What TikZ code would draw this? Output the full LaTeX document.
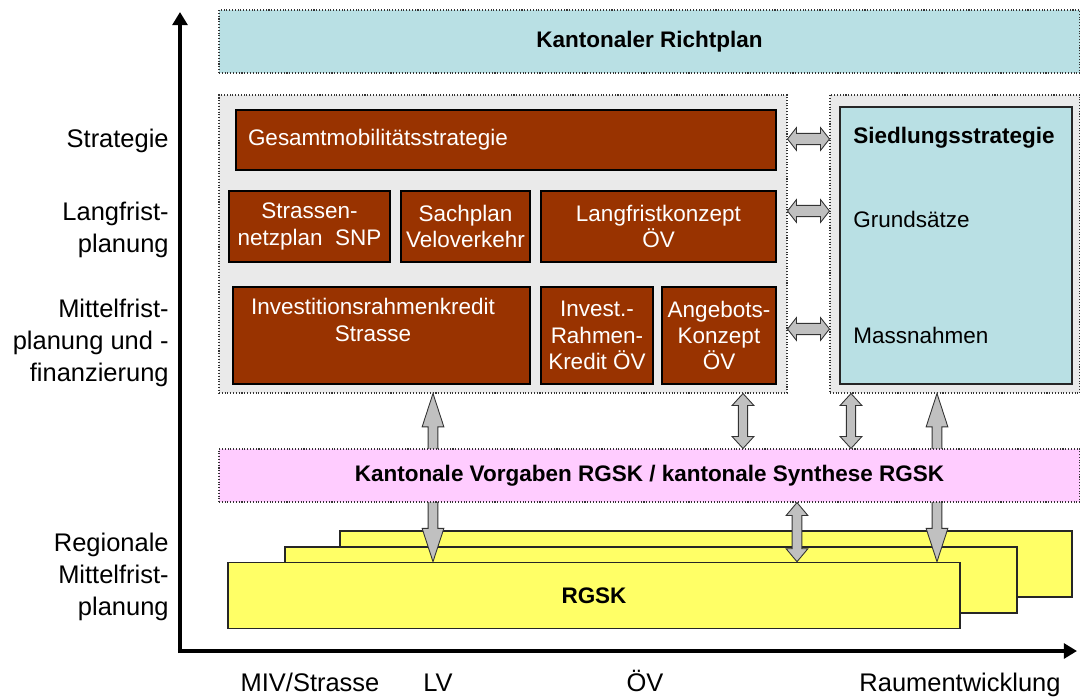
\documentclass[tikz,border=0pt]{standalone}
\usepackage{fontspec}
\setmainfont{Liberation Sans}
\usetikzlibrary{arrows.meta,calc}

\newlength{\pix}
\setlength{\pix}{0.02cm}

\definecolor{richtblau}{HTML}{B9E0E4}
\definecolor{rostbraun}{HTML}{993300}
\definecolor{panelgrau}{HTML}{EAEAEA}
\definecolor{rosa}{HTML}{FFCCFF}
\definecolor{gelb}{HTML}{FFFF66}
\definecolor{pfeilgrau}{HTML}{C0C0C0}

\tikzset{
  massbox/.style={draw=black, line width=1.1pt, fill=rostbraun, text=white, inner sep=0pt,
    align=center, font=\fontsize{12.8}{15}\selectfont},
  boxtext/.style={text=white, align=center, inner sep=0pt, font=\fontsize{12.8}{15}\selectfont},
  rahmen/.style={draw=black!80, densely dotted, line width=0.6pt, inner sep=0pt},
  rgsk/.style={draw=black!85, line width=0.9pt, fill=gelb, inner sep=0pt,
    minimum width=732\pix, minimum height=66\pix},
  fett/.style={inner sep=0pt, font=\fontsize{12.8}{15}\selectfont\bfseries},
  normal/.style={inner sep=0pt, font=\fontsize{12.8}{15}\selectfont},
  achslabel/.style={anchor=east, align=right, inner sep=0pt, font=\fontsize{14.5}{18}\selectfont},
  fusslabel/.style={anchor=base, inner sep=0pt, font=\fontsize{14.5}{18}\selectfont},
  pfeil/.style={draw=black!80, line width=0.5pt, fill=pfeilgrau},
  vdbl/.style n args={3}{to path={
    let \p1=(\tikztostart), \p2=(\tikztotarget) in
    (\x1,\y1) -- (\x1+#2,\y1-#1) -- (\x1+#3,\y1-#1) -- (\x1+#3,\y2+#1) -- (\x1+#2,\y2+#1)
    -- (\x1,\y2) -- (\x1-#2,\y2+#1) -- (\x1-#3,\y2+#1) -- (\x1-#3,\y1-#1) -- (\x1-#2,\y1-#1) -- cycle}},
  hdbl/.style n args={3}{to path={
    let \p1=(\tikztostart), \p2=(\tikztotarget) in
    (\x1,\y1) -- (\x1+#1,\y1+#2) -- (\x1+#1,\y1+#3) -- (\x2-#1,\y1+#3) -- (\x2-#1,\y1+#2)
    -- (\x2,\y1) -- (\x2-#1,\y1-#2) -- (\x2-#1,\y1-#3) -- (\x1+#1,\y1-#3) -- (\x1+#1,\y1-#2) -- cycle}},
}

\begin{document}
\begin{tikzpicture}[x=0.02cm, y=-0.02cm]
	\useasboundingbox (0,0) rectangle (1080,697);
	
	%ACHSEN
	\coordinate (ursprung) at (180,651);
	\coordinate (oben) at (180,12);
	\coordinate (rechts) at (1077,651);
	\draw[line width=2.3pt, -{Triangle[length=7.5pt,width=8.5pt]}] ([yshift=-1.15pt]ursprung) -- (oben);
	\draw[line width=2.3pt, -{Triangle[length=7.5pt,width=8.5pt]}] ([xshift=-1.15pt]ursprung) -- (rechts);
	
	%RICHTPLAN
	\node[rahmen, fill=richtblau, minimum width=861\pix, minimum height=63\pix, fett] (richtplan) at (649.5,41.5) {Kantonaler Richtplan};
	
	%VERKEHR
	\node[rahmen, fill=panelgrau, minimum width=568\pix, minimum height=298\pix] (panel) at (503,244) {};
	\node[massbox, minimum width=540\pix, minimum height=60\pix, text width=516\pix, align=left] (gm) at (506,140) {Gesamtmobilitätsstrategie};
	\node[massbox, minimum width=161\pix, minimum height=71\pix] (snp) at (309.5,226.5) {Strassen-\\netzplan\ \ SNP};
	\node[massbox, minimum width=129\pix, minimum height=71\pix] (svv) at (465.5,226.5) {Sachplan\\Veloverkehr};
	\node[massbox, minimum width=235\pix, minimum height=71\pix] (lfk) at (658.5,226.5) {Langfristkonzept\\ÖV};
	\node[massbox, minimum width=297\pix, minimum height=97\pix] (irk) at (381.5,335.5) {};
	\node[boxtext] (irktext) at (373,320) {Investitionsrahmenkredit\\Strasse};
	\node[massbox, minimum width=112\pix, minimum height=97\pix] (irkoev) at (597,335.5) {Invest.-\\Rahmen-\\Kredit ÖV};
	\node[massbox, minimum width=114\pix, minimum height=97\pix] (akoev) at (719,335.5) {Angebots-\\Konzept\\ÖV};
	
	%SIEDLUNG
	\node[rahmen, fill=panelgrau, minimum width=250\pix, minimum height=298\pix] (rpanel) at (955,244) {};
	\node[draw=black!85, line width=1.1pt, fill=richtblau, inner sep=0pt, minimum width=232\pix, minimum height=277\pix] (sied) at (956,245.5) {};
	\node[fett, anchor=west] (siedtitel) at (853,138) {Siedlungsstrategie};
	\node[normal, anchor=west] (grund) at (853,219) {Grundsätze};
	\node[normal, anchor=west] (massn) at (853,335) {Massnahmen};
	
	%RGSK
	\node[rgsk] (hinten) at (706,564) {};
	\node[rgsk] (mitte) at (651,580) {};
	\node[rgsk, fett] (vorn) at (594,595.5) {RGSK};
	
	%PFEILE
	\coordinate (p1) at (433,0);
	\coordinate (p2) at (937,0);
	\coordinate (p3) at (743,0);
	\coordinate (p4) at (851,0);
	\coordinate (p5) at (797,0);
	\coordinate (h1) at (800,139);
	\coordinate (h2) at (800,211);
	\coordinate (h3) at (800,329);
	\draw[pfeil] (panel.south -| p1) to[vdbl={19pt}{6.2pt}{2.8pt}] (vorn.north -| p1);
	\draw[pfeil] (rpanel.south -| p2) to[vdbl={19pt}{6.2pt}{2.8pt}] (vorn.north -| p2);
	
	%VORGABEN
	\node[rahmen, fill=rosa, minimum width=861\pix, minimum height=53\pix, fett] (vorgaben) at (649.5,475.5) {Kantonale Vorgaben RGSK / kantonale Synthese RGSK};
	
	\draw[pfeil] (panel.south -| p3) to[vdbl={6.8pt}{6.2pt}{2.6pt}] (vorgaben.north -| p3);
	\draw[pfeil] (rpanel.south -| p4) to[vdbl={6.8pt}{6.2pt}{2.6pt}] (vorgaben.north -| p4);
	\draw[pfeil] (vorgaben.south -| p5) to[vdbl={7.4pt}{6.2pt}{2.8pt}] (vorn.north -| p5);
	\draw[pfeil] (panel.east |- h1) to[hdbl={5.1pt}{6.5pt}{3.2pt}] (rpanel.west |- h1);
	\draw[pfeil] (panel.east |- h2) to[hdbl={5.1pt}{6.5pt}{3.2pt}] (rpanel.west |- h2);
	\draw[pfeil] (panel.east |- h3) to[hdbl={5.1pt}{6.5pt}{3.2pt}] (rpanel.west |- h3);
	
	%BESCHRIFTUNG
	\node[achslabel] (lstrat) at (169,141) {Strategie};
	\node[achslabel] (llang) at (169,230) {Langfrist-\\planung};
	\node[achslabel] (lmittel) at (169,343) {Mittelfrist-\\planung und -\\finanzierung};
	\node[achslabel] (lregio) at (169,577) {Regionale\\Mittelfrist-\\planung};
	\node[fusslabel] (fmiv) at (310,691) {MIV/Strasse};
	\node[fusslabel] (flv) at (438,691) {LV};
	\node[fusslabel] (foev) at (645,691) {ÖV};
	\node[fusslabel] (fraum) at (960,691) {Raumentwicklung};
\end{tikzpicture}
\end{document}
